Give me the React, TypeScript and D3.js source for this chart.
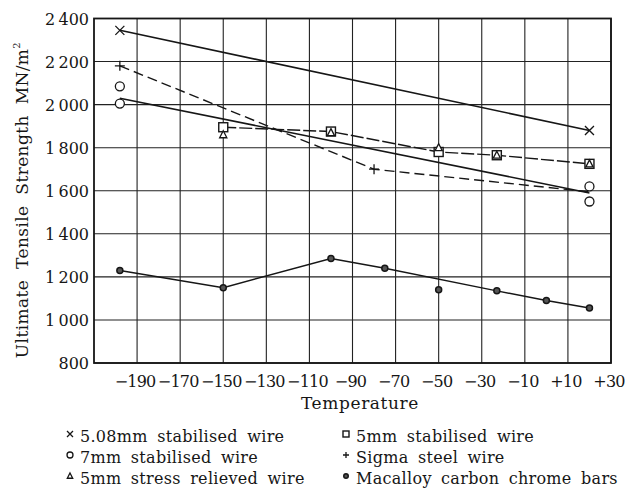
import * as d3 from "d3";

// temperatures (deg C) and ultimate tensile strengths (MN/m2)
const wire508Temps = [-198, 20];
const wire508Values = [2345, 1880];

const wire5Temps = [-150, -100, -50, -23, 20];
const wire5Values = [1895, 1875, 1780, 1765, 1725];

const relievedTemps = [-150, -100, -50, -23, 20];
const relievedValues = [1860, 1870, 1800, 1765, 1725];

const wire7Temps = [-198, -198, 20, 20];
const wire7Values = [2085, 2005, 1620, 1550];
const wire7LineTemps = [-198, 20];
const wire7LineValues = [2030, 1590];

const sigmaTemps = [-198, -80, 20];
const sigmaValues = [2180, 1700, 1595];
const sigmaMarked = [true, true, false];

const macalloyTemps = [-198, -150, -100, -75, -50, -23, 0, 20];
const macalloyValues = [1230, 1150, 1285, 1240, 1140, 1135, 1090, 1055];
const macalloyOnLine = [true, true, true, true, false, true, true, true];

const xTicks = [-190, -170, -150, -130, -110, -90, -70, -50, -30, -10, 10, 30];
const yTicks = [800, 1000, 1200, 1400, 1600, 1800, 2000, 2200, 2400];

const legendLabels = [
  ["5.08mm stabilised wire", "5mm stabilised wire"],
  ["7mm stabilised wire", "Sigma steel wire"],
  ["5mm stress relieved wire", "Macalloy carbon chrome bars"],
];
const legendSymbols = [
  ["cross", "square"],
  ["circle", "plus"],
  ["triangle", "dot"],
];

const W = 642;
const H = 494;
const plot = { left: 94, right: 611, top: 18.5, bottom: 363 };
const ink = "#161616";
const font = "'DejaVu Serif', serif";

const x = d3.scaleLinear().domain([-210, 30]).range([plot.left, plot.right]);
const y = d3.scaleLinear().domain([800, 2400]).range([plot.bottom, plot.top]);

const zip = (ts: number[], vs: number[]) => ts.map((t, i) => [t, vs[i]] as [number, number]);
const line = d3
  .line<[number, number]>()
  .x((d) => x(d[0]))
  .y((d) => y(d[1]));

const fmtY = (v: number) =>
  v >= 1000 ? `${Math.floor(v / 1000)}\u2009${String(v % 1000).padStart(3, "0")}` : String(v);
const fmtX = (t: number) => (t > 0 ? `+${t}` : `\u2212${Math.abs(t)}`);

function Symbol({ kind, cx, cy, s }: { kind: string; cx: number; cy: number; s: number }) {
  const h = s / 2;
  if (kind === "cross")
    return (
      <path
        d={`M${cx - h},${cy - h}L${cx + h},${cy + h}M${cx - h},${cy + h}L${cx + h},${cy - h}`}
        stroke={ink}
        strokeWidth={1.3}
      />
    );
  if (kind === "plus")
    return (
      <path d={`M${cx - h},${cy}L${cx + h},${cy}M${cx},${cy - h}L${cx},${cy + h}`} stroke={ink} strokeWidth={1.3} />
    );
  if (kind === "circle")
    return <circle cx={cx} cy={cy} r={h} fill="#fff" stroke={ink} strokeWidth={1.3} />;
  if (kind === "square")
    return <rect x={cx - h} y={cy - h} width={s} height={s} fill="#fff" stroke={ink} strokeWidth={1.4} />;
  if (kind === "triangle")
    return (
      <path
        d={`M${cx},${cy - h}L${cx + h * 0.9},${cy + h * 0.75}L${cx - h * 0.9},${cy + h * 0.75}Z`}
        fill="#fff"
        stroke={ink}
        strokeWidth={1.3}
      />
    );
  return <circle cx={cx} cy={cy} r={h * 0.75} fill="#555" stroke={ink} strokeWidth={1.5} />;
}

export default function App() {
  const macLine = zip(macalloyTemps, macalloyValues).filter((_, i) => macalloyOnLine[i]);
  return (
    <svg
      width={W}
      height={H}
      style={{ position: "absolute", left: 0, top: 0, background: "#fff", fontFamily: font }}
    >
      {/* grid */}
      <g stroke="#222" strokeWidth={1.1}>
        {yTicks.map((v) => (
          <line key={v} x1={plot.left} x2={plot.right} y1={y(v)} y2={y(v)} />
        ))}
        {xTicks.map((t) => (
          <line key={t} x1={x(t)} x2={x(t)} y1={plot.top} y2={plot.bottom} />
        ))}
      </g>
      <rect
        x={plot.left}
        y={plot.top}
        width={plot.right - plot.left}
        height={plot.bottom - plot.top}
        fill="none"
        stroke={ink}
        strokeWidth={1.8}
      />

      {/* tick labels */}
      <g fill={ink} style={{ fontFamily: font, fontSize: 16 }}>
        {yTicks.map((v) => (
          <text key={v} x={plot.left - 5} y={y(v) + 6} textAnchor="end">
            {fmtY(v)}
          </text>
        ))}
        {xTicks.map((t) => (
          <text key={t} x={x(t) - 2} y={387} textAnchor="middle" letterSpacing={-0.8}>
            {fmtX(t)}
          </text>
        ))}
      </g>

      {/* axis titles */}
      <text x={360} y={409} textAnchor="middle" fill={ink} style={{ fontFamily: font, fontSize: 17, letterSpacing: 0.6 }}>
        Temperature
      </text>
      <text
        transform="translate(28,200) rotate(-90)"
        textAnchor="middle"
        fill={ink}
        style={{ fontFamily: font, fontSize: 17, letterSpacing: 0.4, wordSpacing: 5 }}
      >
        Ultimate Tensile Strength MN/m
        <tspan fontSize={10} dy={-8}>
          2
        </tspan>
      </text>

      {/* lines */}
      <g fill="none" stroke={ink}>
        <path d={line(zip(wire508Temps, wire508Values)) || ""} strokeWidth={1.6} />
        <path d={line(zip(wire7LineTemps, wire7LineValues)) || ""} strokeWidth={1.5} />
        <path d={line(zip(sigmaTemps, sigmaValues)) || ""} strokeWidth={1.4} strokeDasharray="10,5" />
        <path d={line(zip(wire5Temps, wire5Values)) || ""} strokeWidth={1.4} strokeDasharray="13,3" />
        <path d={line(macLine) || ""} strokeWidth={1.5} />
      </g>

      {/* markers */}
      {zip(wire508Temps, wire508Values).map(([t, v], i) => (
        <Symbol key={"x" + i} kind="cross" cx={x(t)} cy={y(v)} s={9} />
      ))}
      {zip(sigmaTemps, sigmaValues)
        .filter((_, i) => sigmaMarked[i])
        .map(([t, v], i) => (
          <Symbol key={"p" + i} kind="plus" cx={x(t)} cy={y(v)} s={10} />
        ))}
      {zip(wire7Temps, wire7Values).map(([t, v], i) => (
        <Symbol key={"c" + i} kind="circle" cx={x(t)} cy={y(v)} s={9} />
      ))}
      {zip(wire5Temps, wire5Values).map(([t, v], i) => (
        <Symbol key={"s" + i} kind="square" cx={x(t)} cy={y(v)} s={9} />
      ))}
      {zip(relievedTemps, relievedValues).map(([t, v], i) => (
        <Symbol key={"t" + i} kind="triangle" cx={x(t)} cy={y(v)} s={8} />
      ))}
      {zip(macalloyTemps, macalloyValues).map(([t, v], i) => (
        <Symbol key={"m" + i} kind="dot" cx={x(t)} cy={y(v)} s={8} />
      ))}

      {/* legend */}
      <g fill={ink} style={{ fontFamily: font, fontSize: 16, letterSpacing: 0.3, wordSpacing: 4 }}>
        {legendLabels.map((row, r) =>
          row.map((label, c) => {
            const lx = c === 0 ? 70 : 346;
            const ly = 442 + r * 21;
            return (
              <g key={label}>
                <Symbol kind={legendSymbols[r][c]} cx={lx} cy={ly - 8} s={6} />
                <text x={lx + 10} y={ly}>
                  {label}
                </text>
              </g>
            );
          })
        )}
      </g>
    </svg>
  );
}
